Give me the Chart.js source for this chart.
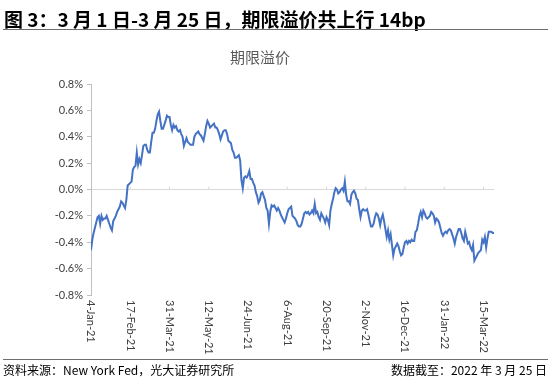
<!DOCTYPE html>
<html>
<head>
<meta charset="utf-8">
<script src="https://cdn.jsdelivr.net/npm/chart.js@4/dist/chart.umd.min.js"></script>
<style>
  body { margin: 0; background: #fff; }
  #wrap { position: relative; width: 550px; height: 377px; overflow: hidden; font-family: "Noto Sans CJK SC", sans-serif; }
  #cv { position: absolute; left: 0; top: 0; }
  .hd { position: absolute; left: 4px; top: 5px; font-size: 19px; font-weight: bold; color: #000; white-space: nowrap; }
  .hline { position: absolute; left: 3px; width: 545px; height: 0; border-top: 1.5px solid #6e6e6e; }
  .ct { position: absolute; left: 230px; top: 46px; font-size: 15px; color: #595959; }
  .ft { position: absolute; top: 361px; font-size: 12px; color: #000; white-space: nowrap; }
</style>
</head>
<body>
<div id="wrap">
  <canvas id="cv" width="550" height="377"></canvas>
  <div class="hd">图 3：3 月 1 日-3 月 25 日，期限溢价共上行 14bp</div>
  <div class="hline" style="top:29px"></div>
  <div class="ct">期限溢价</div>
  <div class="hline" style="top:359px"></div>
  <div class="ft" style="left:3px">资料来源：New York Fed，光大证券研究所</div>
  <div class="ft" style="right:3px">数据截至：2022 年 3 月 25 日</div>
</div>
<script>
// ================= data (10y term premium, %, daily, 4-Jan-21 .. 25-Mar-22)
var tickLabels = ['4-Jan-21', '17-Feb-21', '31-Mar-21', '12-May-21', '24-Jun-21', '6-Aug-21',
                  '20-Sep-21', '2-Nov-21', '16-Dec-21', '31-Jan-22', '15-Mar-22'];
var tickEvery = 30;

var termPremium = [
  -0.46, -0.38, -0.33, -0.29, -0.25, -0.21, -0.20, -0.26, -0.20, -0.23,
  -0.22, -0.22, -0.20, -0.23, -0.26, -0.29, -0.31, -0.24, -0.22, -0.20,
  -0.17, -0.15, -0.13, -0.09, -0.10, -0.12, -0.14, -0.08, 0.03, 0.04,
  0.05, 0.06, 0.15, 0.17, 0.18, 0.28, 0.19, 0.23, 0.20, 0.26,
  0.33, 0.34, 0.34, 0.30, 0.28, 0.28, 0.36, 0.43, 0.43, 0.46,
  0.52, 0.57, 0.59, 0.52, 0.46, 0.46, 0.49, 0.52, 0.56, 0.55,
  0.55, 0.49, 0.45, 0.49, 0.47, 0.48, 0.45, 0.44, 0.45, 0.42,
  0.40, 0.33, 0.36, 0.39, 0.36, 0.35, 0.34, 0.34, 0.34, 0.40,
  0.42, 0.43, 0.44, 0.42, 0.41, 0.39, 0.37, 0.42, 0.48, 0.52,
  0.50, 0.47, 0.48, 0.49, 0.50, 0.47, 0.47, 0.45, 0.42, 0.38,
  0.41, 0.44, 0.45, 0.45, 0.42, 0.37, 0.36, 0.35, 0.30, 0.28,
  0.24, 0.24, 0.25, 0.26, 0.22, 0.07, 0.01, 0.09, 0.10, 0.09,
  0.11, 0.14, 0.08, 0.08, 0.05, 0.03, -0.02, -0.05, -0.10, -0.08,
  -0.03, -0.02, -0.05, -0.08, -0.14, -0.16, -0.26, -0.17, -0.12, -0.13,
  -0.12, -0.14, -0.16, -0.14, -0.16, -0.19, -0.21, -0.23, -0.25, -0.22,
  -0.18, -0.15, -0.14, -0.13, -0.20, -0.21, -0.22, -0.24, -0.27, -0.28,
  -0.28, -0.26, -0.22, -0.18, -0.17, -0.18, -0.17, -0.19, -0.18, -0.16,
  -0.18, -0.11, -0.18, -0.17, -0.21, -0.23, -0.18, -0.20, -0.22, -0.25,
  -0.21, -0.23, -0.27, -0.16, -0.11, -0.07, -0.02, 0.01, 0.00, -0.03,
  -0.02, 0.00, 0.01, -0.01, 0.06, -0.04, -0.09, -0.09, -0.11, -0.04,
  -0.02, -0.01, -0.03, -0.07, -0.08, -0.15, -0.21, -0.16, -0.15, -0.16,
  -0.16, -0.15, -0.19, -0.24, -0.28, -0.28, -0.26, -0.21, -0.18, -0.19,
  -0.22, -0.27, -0.22, -0.19, -0.24, -0.30, -0.36, -0.31, -0.38, -0.34,
  -0.42, -0.50, -0.45, -0.43, -0.41, -0.43, -0.47, -0.50, -0.49, -0.44,
  -0.40, -0.39, -0.41, -0.39, -0.40, -0.38, -0.39, -0.39, -0.32, -0.31,
  -0.26, -0.20, -0.17, -0.21, -0.16, -0.18, -0.21, -0.22, -0.21, -0.20,
  -0.17, -0.18, -0.20, -0.25, -0.22, -0.23, -0.25, -0.29, -0.33, -0.35,
  -0.33, -0.32, -0.33, -0.31, -0.30, -0.31, -0.34, -0.37, -0.41, -0.36,
  -0.33, -0.30, -0.30, -0.33, -0.37, -0.39, -0.32, -0.36, -0.41, -0.40,
  -0.44, -0.46, -0.42, -0.54, -0.52, -0.50, -0.48, -0.47, -0.46, -0.38,
  -0.40, -0.36, -0.44, -0.37, -0.32, -0.32, -0.32, -0.33, -0.33
];

var axisFont = 'Lato, "Noto Sans CJK SC", sans-serif';

// x labels in the picture read top-to-bottom, so they are drawn here instead of by the scale
var rotatedLabels = {
    id: 'rotatedLabels',
    afterDraw: function(chart) {
        var ctx = chart.ctx;
        var xs = chart.scales.x;
        var area = chart.chartArea;
        ctx.save();
        ctx.font = '11px ' + axisFont;
        ctx.fillStyle = '#404040';
        ctx.textAlign = 'left';
        ctx.textBaseline = 'middle';
        for (var i = 0; i < tickLabels.length; i++) {
            var px = xs.getPixelForValue(i * tickEvery);
            ctx.save();
            ctx.translate(px, area.bottom + 5);
            ctx.rotate(Math.PI / 2);
            ctx.fillText(tickLabels[i], 0, 0);
            ctx.restore();
            // small tick on the zero line
            var y0 = chart.scales.y.getPixelForValue(0);
            if (i > 0) {
                ctx.strokeStyle = '#d9d9d9';
                ctx.lineWidth = 1;
                ctx.beginPath();
                ctx.moveTo(px, y0 - 3);
                ctx.lineTo(px, y0);
                ctx.stroke();
            }
        }
        ctx.restore();
    }
};

var ctx = document.getElementById('cv');
var chart = new Chart(ctx, {
    type: 'line',
    data: {
        datasets: [{
            label: '期限溢价',
            data: termPremium.map(function(v, i) { return { x: i, y: v }; }),
            borderColor: '#4472C4',
            borderWidth: 2,
            pointRadius: 0,
            tension: 0,
            fill: false
        }]
    },
    options: {
        responsive: false,
        animation: false,
        layout: { padding: { left: 30, right: 56, top: 84, bottom: 82 } },
        plugins: {
            legend: { display: false },
            title: { display: false },
            tooltip: { enabled: false }
        },
        scales: {
            x: {
                type: 'linear',
                min: 0,
                max: termPremium.length - 1,
                display: false
            },
            y: {
                min: -0.8,
                max: 0.8,
                afterFit: function(scale) { scale.width = 61; },
                border: { display: true, color: '#bfbfbf', width: 1 },
                grid: {
                    drawOnChartArea: true,
                    color: function(c) { return c.tick && c.tick.value === 0 ? '#d9d9d9' : 'rgba(0,0,0,0)'; },
                    tickColor: '#bfbfbf',
                    tickLength: 4
                },
                ticks: {
                    stepSize: 0.2,
                    padding: 4,
                    color: '#404040',
                    font: { family: axisFont, size: 11 },
                    callback: function(v) { return v.toFixed(1) + '%'; }
                }
            }
        }
    },
    plugins: [rotatedLabels]
});
</script>
</body>
</html>
